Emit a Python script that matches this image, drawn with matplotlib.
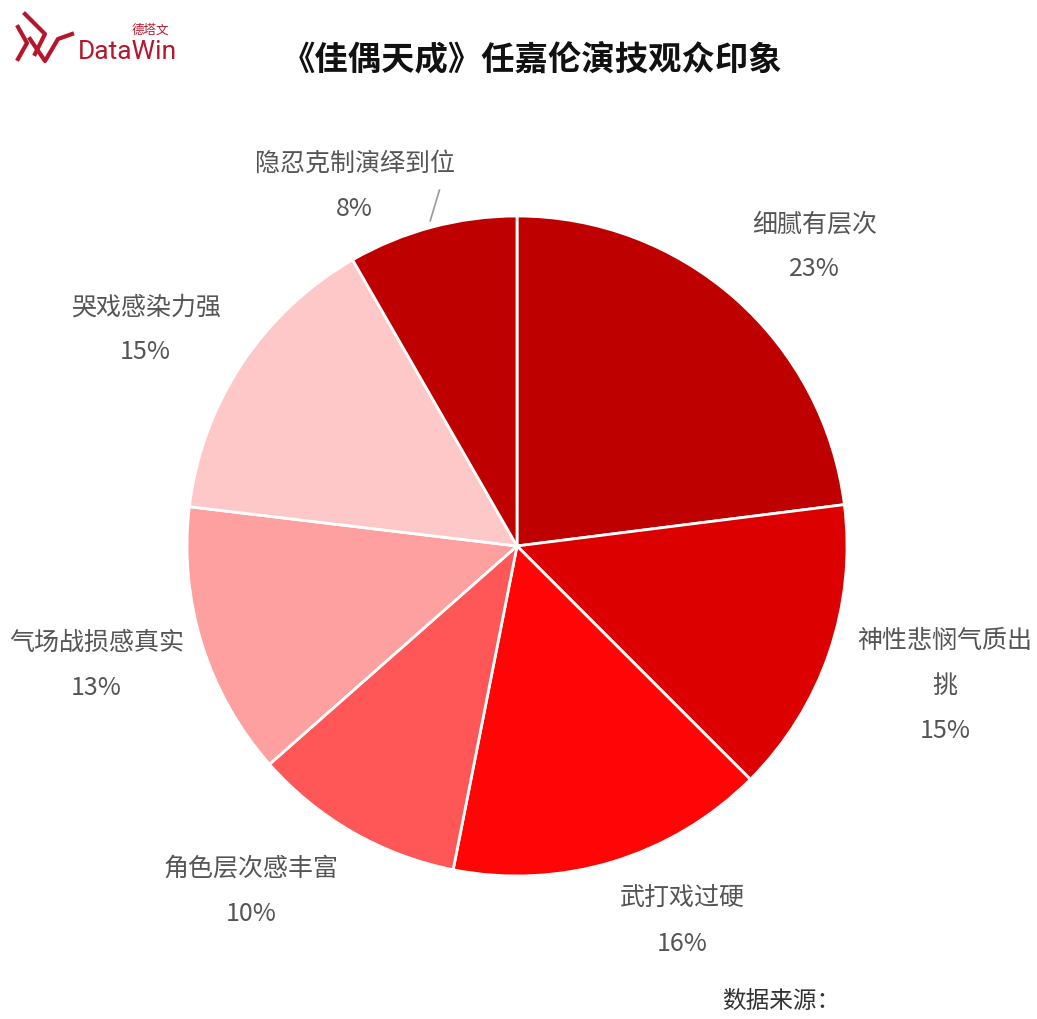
import matplotlib.pyplot as plt
import numpy as np

plt.rcParams['font.family'] = ['Noto Sans CJK SC', 'DejaVu Sans']

# 数据
categories = ['细腻有层次', '神性悲悯气质出挑', '武打戏过硬', '角色层次感丰富',
              '气场战损感真实', '哭戏感染力强', '隐忍克制演绎到位']
label_text = ['细腻有层次', '神性悲悯气质出\n挑', '武打戏过硬', '角色层次感丰富',
              '气场战损感真实', '哭戏感染力强', '隐忍克制演绎到位']
values = [23.0, 14.5, 15.6, 10.4, 13.4, 14.8, 8.3]
pct_labels = ['23%', '15%', '16%', '10%', '13%', '15%', '8%']
colors = ['#BF0000', '#DD0000', '#FF0505', '#FF5757', '#FFA0A0', '#FFC8C8', '#BF0000']

# 标签位置（角度, 半径倍数）
label_pos = [(45.6, 1.29), (-17.5, 1.36), (-66, 1.23), (-128, 1.31),
             (-164.8, 1.32), (149.2, 1.31), (114, 1.21)]

W, H = 1037, 1020
fig = plt.figure(figsize=(W / 100, H / 100), dpi=100)
ax = fig.add_axes([0, 0, 1, 1])
R = 330.0
cx, cy = 517.0, 547.0

wedges, _ = ax.pie(values, colors=colors, startangle=90, counterclock=False,
                   radius=1.0, center=(0, 0), frame=True,
                   wedgeprops=dict(edgecolor='white', linewidth=2))
ax.set_xlim(-cx / R, (W - cx) / R)
ax.set_ylim(-(H - cy) / R, cy / R)
ax.set_aspect('auto')
ax.axis('off')

for txt, p, (ang, r) in zip(label_text, pct_labels, label_pos):
    a = np.deg2rad(ang)
    ax.text(r * np.cos(a), r * np.sin(a) - 0.012, "{}\n{}".format(txt, p),
            ha='center', va='center', fontsize=18, color='#555555',
            linespacing=1.95)

# 小扇区引导线
w = wedges[-1]
mid = np.deg2rad((w.theta1 + w.theta2) / 2)
x0, y0 = 1.02 * np.cos(mid), 1.02 * np.sin(mid)
ax.plot([x0, x0 + 0.028], [y0, y0 + 0.093], color='#999999', lw=1.2)

# 标题
fig.text(532 / W, 1 - 61 / H, '《佳偶天成》任嘉伦演技观众印象', ha='center', va='center',
         fontsize=24, fontweight='bold', color='#111111')

# 数据来源
fig.text(722 / W, 1 - 1001 / H, '数据来源：', ha='left', va='center',
         fontsize=17, color='#333333')

# Logo
logo = '#B5162B'
fig.text(78 / W, 1 - 52 / H, 'DataWin', ha='left', va='center',
         fontsize=19, color=logo, family=['Roboto', 'DejaVu Sans'])
fig.text(150 / W, 1 - 30 / H, '德塔文', ha='center', va='center',
         fontsize=9, color=logo)
fig.lines.append(plt.Line2D([18 / W, 27 / W, 18 / W], [1 - 28 / H, 1 - 44 / H, 1 - 60 / H],
                            transform=fig.transFigure, color=logo, lw=3))
fig.lines.append(plt.Line2D([25 / W, 45 / W, 35 / W], [1 - 15 / H, 1 - 35 / H, 1 - 55 / H],
                            transform=fig.transFigure, color=logo, lw=3))
fig.lines.append(plt.Line2D([30 / W, 45 / W, 58 / W, 72 / W], [1 - 40 / H, 1 - 62 / H, 1 - 40 / H, 1 - 35 / H],
                            transform=fig.transFigure, color=logo, lw=3))

fig.savefig('out.png', dpi=100, facecolor='white')
